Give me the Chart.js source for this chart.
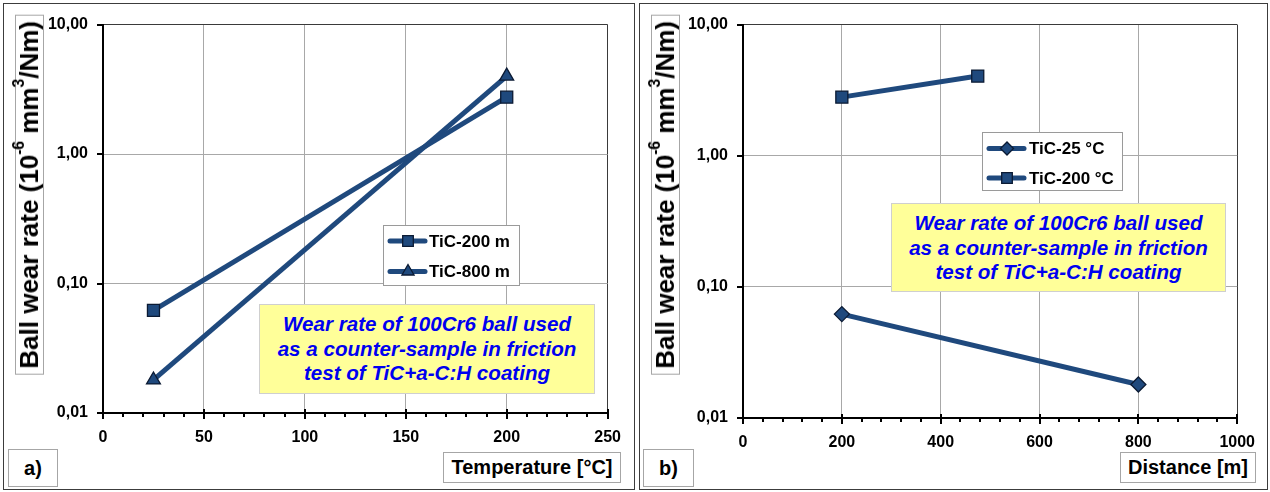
<!DOCTYPE html>
<html><head><meta charset="utf-8">
<script src="https://cdn.jsdelivr.net/npm/chart.js@4.4.1/dist/chart.umd.min.js"></script>
<style>
html,body{margin:0;padding:0;background:#fff;}
body{width:1270px;height:492px;position:relative;overflow:hidden;font-family:"Liberation Sans",Arial,sans-serif;}
canvas{position:absolute;top:0;}
.panel{position:absolute;border:1.5px solid #3c3c3c;box-sizing:border-box;pointer-events:none;z-index:5;}
.box{position:absolute;border:1px solid #a6a6a6;background:#fff;box-sizing:border-box;font-weight:bold;color:#000;display:flex;align-items:center;justify-content:center;white-space:nowrap;z-index:4;}
.ytitle{position:absolute;border:1px solid #a6a6a6;background:#fff;font-weight:bold;color:#000;font-size:26px;line-height:27px;writing-mode:vertical-rl;transform:rotate(180deg);padding:5px 0;white-space:nowrap;z-index:4;}
.ytitle sup{font-size:0.6em;line-height:0;}
.note{position:absolute;background:#ffff99;border:1px solid #cfcfcf;color:#0000f0;font-weight:bold;font-style:italic;font-size:20.6px;text-align:center;line-height:24.6px;box-sizing:border-box;white-space:nowrap;z-index:4;}
</style>
</head><body>
<canvas id="c1" width="636" height="492" style="left:0;width:636px;height:492px"></canvas>
<canvas id="c2" width="634" height="492" style="left:636px;width:634px;height:492px"></canvas>

<div class="panel" style="left:3px;top:3px;width:632px;height:487px"></div>
<div class="panel" style="left:639px;top:3px;width:629px;height:487px"></div>

<div class="ytitle" style="left:15px;top:15px;">Ball wear rate (10<sup>-6</sup> mm<sup>3</sup>/Nm)</div>
<div class="ytitle" style="left:651px;top:15px;">Ball wear rate (10<sup>-6</sup> mm<sup>3</sup>/Nm)</div>

<div class="note" style="left:259px;top:304px;width:336px;height:90px;padding-top:7px;">Wear rate of 100Cr6 ball used<br>as a counter-sample in friction<br>test of TiC+a-C:H coating</div>
<div class="note" style="left:891px;top:203px;width:335px;height:89px;padding-top:7px;">Wear rate of 100Cr6 ball used<br>as a counter-sample in friction<br>test of TiC+a-C:H coating</div>

<div class="box" style="left:8px;top:449px;width:50px;height:38px;font-size:20px;">a)</div>
<div class="box" style="left:443px;top:452px;width:178px;height:31px;font-size:20px;">Temperature [°C]</div>
<div class="box" style="left:643px;top:449px;width:51px;height:38px;font-size:20px;">b)</div>
<div class="box" style="left:1120px;top:452px;width:136px;height:31px;font-size:20px;">Distance [m]</div>

<script>
// ---- data ----
const temperatureC = [25, 200];
const wearTiC200m = [0.062, 2.75];
const wearTiC800m = [0.018, 4.0];
const distance25C = [200, 800];
const wearTiC25C = [0.062, 0.018];
const distance200C = [200, 475];
const wearTiC200C = [2.8, 4.05];
const yTickValues = [0.01, 0.1, 1, 10];
const yTickLabels = ['0,01', '0,10', '1,00', '10,00'];
const tempTicks = [0, 50, 100, 150, 200, 250];
const distTicks = [0, 200, 400, 600, 800, 1000];

const NAVY = '#1F497D';
const EDGE = '#0b1a33';
const FONT = '"Liberation Sans", Arial, sans-serif';

function pts(xs, ys) { return xs.map((x, i) => ({ x: x, y: ys[i] })); }
function ds(label, xs, ys, style, r) {
  return {
    label: label, data: pts(xs, ys), borderColor: NAVY, backgroundColor: NAVY,
    borderWidth: 5, pointStyle: style, pointRadius: r, pointHoverRadius: r,
    pointBackgroundColor: NAVY, pointBorderColor: EDGE, pointBorderWidth: 1.3,
    tension: 0, clip: false
  };
}

const tickMarks = {
  id: 'tickMarks',
  afterDraw(chart, args, o) {
    const { ctx, chartArea: a } = chart;
    const x = chart.scales.x, y = chart.scales.y;
    ctx.save();
    ctx.strokeStyle = '#000';
    ctx.lineWidth = 2;
    const n = Math.round((x.max - x.min) / o.minor);
    for (let i = 0; i <= n; i++) {
      const v = x.min + i * o.minor;
      const px = Math.round(x.getPixelForValue(v));
      const major = (i % o.perMajor) === 0;
      ctx.beginPath();
      ctx.moveTo(px, a.bottom + (major ? -4 : 0));
      ctx.lineTo(px, a.bottom + (major ? 6 : 4));
      ctx.stroke();
    }
    yTickValues.forEach(v => {
      const py = Math.round(y.getPixelForValue(v));
      ctx.beginPath();
      ctx.moveTo(a.left - 6, py);
      ctx.lineTo(a.left, py);
      ctx.stroke();
    });
    ctx.restore();
  }
};

const boxLegend = {
  id: 'boxLegend',
  afterDraw(chart, args, o) {
    const ctx = chart.ctx;
    ctx.save();
    ctx.fillStyle = '#fff';
    ctx.fillRect(o.x, o.y, o.w, o.h);
    ctx.strokeStyle = '#9a9a9a';
    ctx.lineWidth = 1;
    ctx.strokeRect(o.x + 0.5, o.y + 0.5, o.w - 1, o.h - 1);
    chart.data.datasets.forEach((d, i) => {
      const cy = o.y + o.rows[i];
      ctx.strokeStyle = NAVY;
      ctx.lineWidth = 5;
      ctx.lineCap = 'round';
      ctx.beginPath();
      ctx.moveTo(o.x + o.l0, cy);
      ctx.lineTo(o.x + o.l1, cy);
      ctx.stroke();
      ctx.lineCap = 'butt';
      ctx.fillStyle = NAVY;
      ctx.strokeStyle = EDGE;
      ctx.lineWidth = 1.3;
      Chart.helpers.drawPoint(ctx, { pointStyle: d.pointStyle, rotation: 0, radius: o.mr[i], borderWidth: 1.3 }, o.x + o.mx, cy);
      ctx.fillStyle = '#000';
      ctx.font = 'bold 17px ' + FONT;
      ctx.textBaseline = 'middle';
      ctx.textAlign = 'left';
      ctx.fillText(d.label, o.x + o.tx, cy + 1);
    });
    ctx.restore();
  }
};

function makeChart(id, datasets, xTicks, xMax, pad, yW, xH, legend, minor, perMajor) {
  const lastX = xTicks.length - 1;
  return new Chart(document.getElementById(id), {
    type: 'line',
    data: { datasets: datasets },
    options: {
      responsive: false, animation: false, devicePixelRatio: 1,
      layout: { padding: pad },
      plugins: { legend: { display: false }, tooltip: { enabled: false }, tickMarks: { minor: minor, perMajor: perMajor }, boxLegend: legend },
      scales: {
        x: {
          type: 'linear', min: 0, max: xMax,
          afterBuildTicks: s => { s.ticks = xTicks.map(v => ({ value: v })); },
          afterFit: s => { s.height = xH; },
          ticks: { color: '#000', font: { family: FONT, size: 16, weight: 'bold' }, padding: 15, maxRotation: 0, autoSkip: false, callback: v => String(v) },
          grid: { drawTicks: false, lineWidth: 1, color: c => (c.index === lastX ? '#3a3a3a' : '#a8a8a8') },
          border: { color: '#000', width: 2 }
        },
        y: {
          type: 'logarithmic', min: 0.01, max: 10,
          afterBuildTicks: s => { s.ticks = yTickValues.map(v => ({ value: v })); },
          afterFit: s => { s.width = yW; },
          ticks: { color: '#000', font: { family: FONT, size: 16, weight: 'bold' }, padding: 15, autoSkip: false,
                   callback: v => { const k = yTickValues.findIndex(t => Math.abs(t - v) < 1e-9); return k >= 0 ? yTickLabels[k] : ''; } },
          grid: { drawTicks: false, lineWidth: 1, color: c => (c.index === yTickValues.length - 1 ? '#3a3a3a' : '#a8a8a8') },
          border: { color: '#000', width: 2 }
        }
      }
    },
    plugins: [tickMarks, boxLegend]
  });
}

makeChart('c1',
  [ds('TiC-200 m', temperatureC, wearTiC200m, 'rect', 8.5), ds('TiC-800 m', temperatureC, wearTiC800m, 'triangle', 8)],
  tempTicks, 250, { left: 0, right: 28, top: 22, bottom: 0 }, 103, 79,
  { x: 383, y: 225, w: 137, h: 61, rows: [16, 46.5], l0: 7, l1: 42, mx: 25, tx: 46, mr: [7.5, 7] },
  10, 5);

makeChart('c2',
  [ds('TiC-25 °C', distance25C, wearTiC25C, 'rectRot', 7.5), ds('TiC-200 °C', distance200C, wearTiC200C, 'rect', 8.5)],
  distTicks, 1000, { left: 0, right: 31, top: 21, bottom: 0 }, 107, 74,
  { x: 346, y: 132, w: 141, h: 59, rows: [16.5, 46], l0: 7, l1: 42, mx: 25, tx: 47, mr: [6.5, 7.5] },
  40, 5);
</script>
</body></html>
